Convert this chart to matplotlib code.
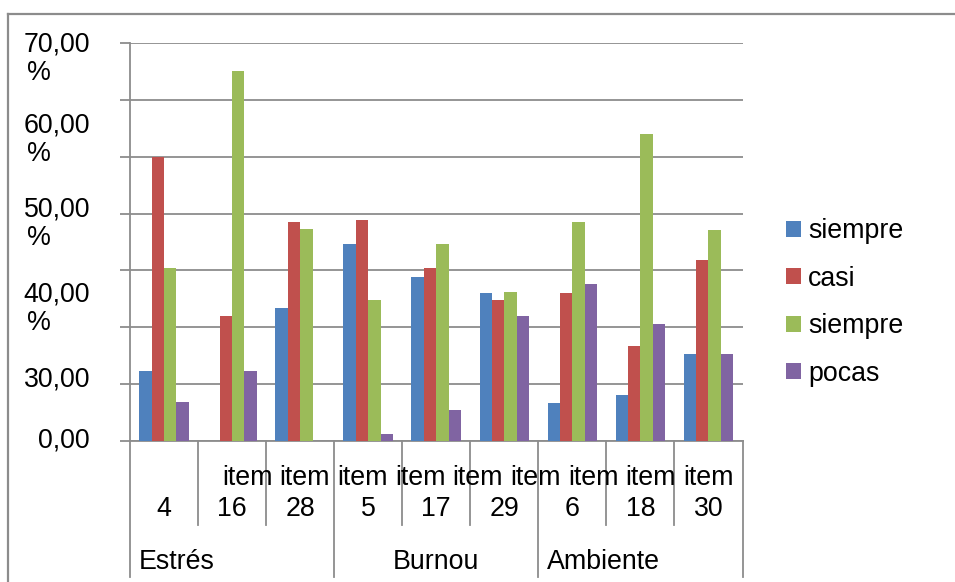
#!/usr/bin/env python3

import numpy as np
import matplotlib
matplotlib.use("Agg")
import matplotlib.pyplot as plt
from matplotlib.lines import Line2D


# values (percent)
item_numbers = ["4", "16", "28", "5", "17", "29", "6", "18", "30"]
groups = ["Estrés", "Burnou", "Ambiente"]
group_sizes = [3, 3, 3]
series_names = ["siempre", "casi", "siempre", "pocas"]
siempre = [12.3, 0.0, 23.3, 34.6, 28.9, 26.1, 6.7, 8.1, 15.2]
casi = [50.0, 21.9, 38.6, 38.8, 30.5, 24.7, 26.1, 16.6, 31.8]
siempre2 = [30.4, 65.2, 37.3, 24.8, 34.6, 26.2, 38.6, 54.0, 37.2]
pocas = [6.8, 12.3, 0.0, 1.2, 5.4, 22.0, 27.6, 20.6, 15.2]
colors = ["#4F81BD", "#C0504D", "#9BBB59", "#8064A2"]

# y labels as excel laid them out (first line position, in data units)
ylabel_texts = ["70,00", "60,00", "50,00", "40,00", "30,00", "0,00"]
ylabel_pos = [69.8, 55.5, 40.8, 25.7, 10.7, 0.0]


def main():
  plt.rcParams['font.family'] = ['Liberation Sans', 'DejaVu Sans']
  fs = 19.3
  grid_c = "#8C8C8C"

  fig = plt.figure(figsize=(9.55, 5.82), dpi=100)
  ax = fig.add_axes([130 / 955, (582 - 440.7) / 582, 612.5 / 955, 397.4 / 582])

  n = len(item_numbers)
  x = np.arange(n)
  w = 0.182
  all_series = [siempre, casi, siempre2, pocas]
  for k, vals in enumerate(all_series):
    ax.bar(x + (k - 1.5) * w, vals, width=w, color=colors[k],
           edgecolor="none", zorder=3, label=series_names[k])

  ax.set_xlim(-0.5, n - 0.5)
  ax.set_ylim(0, 70)
  ax.set_yticks(np.arange(0, 71, 10))
  ax.set_yticklabels([])
  ax.set_xticks([])
  ax.grid(axis="y", color=grid_c, linewidth=1.3, zorder=0)
  for s in ["top", "right"]:
    ax.spines[s].set_visible(False)
  for s in ["left", "bottom"]:
    ax.spines[s].set_color(grid_c)
    ax.spines[s].set_linewidth(1.3)
  ax.tick_params(axis="y", length=7, width=1.3, color=grid_c)

  # y labels, wrapped like the original
  pct_shift = 28.5 / 5.677
  for txt, pos in zip(ylabel_texts, ylabel_pos):
    ax.text(-0.0653, pos, txt, transform=ax.get_yaxis_transform(),
            ha="right", va="center", fontsize=fs, clip_on=False)
    if txt not in ("0,00", "30,00"):
      ax.text(-0.168, pos - pct_shift, "%", transform=ax.get_yaxis_transform(),
              ha="left", va="center", fontsize=fs, clip_on=False)

  # multi level category axis
  tr = ax.get_xaxis_transform()
  bounds = np.cumsum([0] + group_sizes)
  for b in range(n + 1):
    bottom = -0.343 if b in bounds else -0.212
    ax.add_line(Line2D([b - 0.5, b - 0.5], [0, bottom], transform=tr,
                       color=grid_c, linewidth=1.3, clip_on=False))

  item_x = np.linspace(1.22, 8.0, n)
  for i in range(n):
    ax.text(item_x[i], -0.0949, "item", transform=tr, ha="center",
            va="center", fontsize=fs, clip_on=False)
    ax.text(x[i], -0.173, item_numbers[i], transform=tr, ha="center",
            va="center", fontsize=fs, clip_on=False)

  aligns = ["left", "center", "left"]
  for g, name in enumerate(groups):
    start = bounds[g] - 0.5
    end = bounds[g + 1] - 0.5
    if aligns[g] == "left":
      gx = start + 0.13
    else:
      gx = (start + end) / 2
    ax.text(gx, -0.305, name, transform=tr, ha=aligns[g], va="center",
            fontsize=fs, clip_on=False)

  fig.legend(loc="center left", bbox_to_anchor=(786 / 955, 1 - 302.5 / 582),
             frameon=False, fontsize=fs, handlelength=0.55, handleheight=0.55,
             handletextpad=0.28, labelspacing=0.8, borderpad=0, borderaxespad=0)

  # outer chart border (top and left only visible)
  fig.add_artist(Line2D([8 / 955, 1], [1 - 14.3 / 582, 1 - 14.3 / 582],
                        transform=fig.transFigure, color=grid_c, linewidth=1.6))
  fig.add_artist(Line2D([8 / 955, 8 / 955], [0, 1 - 14.3 / 582],
                        transform=fig.transFigure, color=grid_c, linewidth=1.6))

  fig.savefig("out.png", dpi=100)


if __name__ == '__main__':
  main()
